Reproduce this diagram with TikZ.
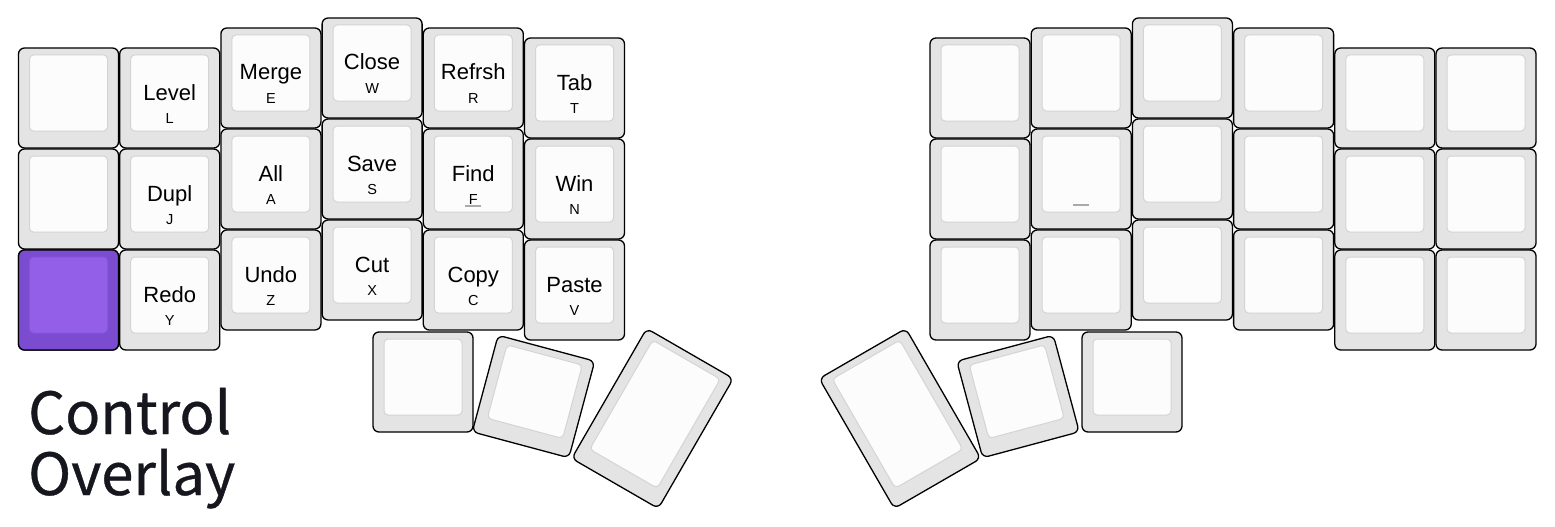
\documentclass[tikz,border=0pt]{standalone}
\usepackage{fontspec}
\setmainfont{Liberation Sans}
\newfontfamily\titlefont[FakeBold=0.6]{Noto Sans CJK JP}
\definecolor{keygray}{HTML}{E4E4E4}
\definecolor{keyface}{HTML}{FCFCFC}
\definecolor{keyedge}{HTML}{D4D4D4}
\definecolor{purpout}{HTML}{7B4BD0}
\definecolor{purpin}{HTML}{935FE9}
\definecolor{purpedge}{HTML}{8755DD}
\definecolor{titlecol}{HTML}{16161E}
\definecolor{barcol}{HTML}{AAAAAA}
\tikzset{
  keyout/.style={draw=black, line width=1.3pt, fill=keygray, rounded corners=6pt},
  keyin/.style={draw=keyedge, line width=1pt, fill=keyface, rounded corners=4pt},
  keyoutp/.style={keyout, fill=purpout},
  keyinp/.style={keyin, draw=purpedge, fill=purpin},
  lab/.style={font=\fontsize{22}{22}\selectfont, anchor=base, inner sep=0pt},
  sublab/.style={font=\fontsize{14.5}{14.5}\selectfont, anchor=base, inner sep=0pt},
  homebar/.style={draw=barcol, line width=2pt},
  titletext/.style={font=\titlefont\fontsize{58}{58}\selectfont, text=titlecol, anchor=base west, inner sep=0pt},
}
\newcommand\keycap[7]{%
  \begin{scope}[shift={(#1,#2)}, rotate=#5]
    \path[#6] (-#3/2,-#4/2) rectangle (#3/2,#4/2);
    \path[#7] (-#3/2+11,-#4/2+7) rectangle (#3/2-11,#4/2-17);
  \end{scope}}
\begin{document}
\begin{tikzpicture}[x=1pt,y=-1pt]
\useasboundingbox[fill=white] (0,0) rectangle (1555,527);
% left half
\foreach \c/\t in {0/48,1/48,2/28,3/18,4/28,5/38} {
  \foreach \r in {0,1,2} {
    \pgfmathsetmacro\cx{18.5+101.2*\c+50}
    \pgfmathsetmacro\cy{\t+101*\r+50}
    \keycap{\cx}{\cy}{100}{100}{0}{keyout}{keyin}
  }
}
\keycap{68.5}{300}{100}{100}{0}{keyoutp}{keyinp}
% right half
\foreach \c/\t in {0/38,1/28,2/18,3/28,4/48,5/48} {
  \foreach \r in {0,1,2} {
    \pgfmathsetmacro\cx{930+101.2*\c+50}
    \pgfmathsetmacro\cy{\t+101*\r+50}
    \keycap{\cx}{\cy}{100}{100}{0}{keyout}{keyin}
  }
}
% thumbs
\keycap{423}{382}{100}{100}{0}{keyout}{keyin}
\keycap{533.5}{396.5}{100}{100}{-15}{keyout}{keyin}
\keycap{652.5}{418.5}{100}{150}{-30}{keyout}{keyin}
\keycap{1132}{382}{100}{100}{0}{keyout}{keyin}
\keycap{1018}{396.5}{100}{100}{15}{keyout}{keyin}
\keycap{900}{418.5}{100}{150}{30}{keyout}{keyin}
% labels
\foreach \c/\t/\m/\s [count=\i] in {
  1/48/Level/L, 2/28/Merge/E, 3/18/Close/W, 4/28/Refrsh/R, 5/38/Tab/T,
  1/149/Dupl/J, 2/129/All/A, 3/119/Save/S, 4/129/Find/F, 5/139/Win/N,
  1/250/Redo/Y, 2/230/Undo/Z, 3/220/Cut/X, 4/230/Copy/C, 5/240/Paste/V} {
  \pgfmathsetmacro\cx{18.5+101.2*\c+50}
  \node[lab] (m\i) at (\cx,\t+52) {\m};
  \node[sublab] (s\i) at (\cx,\t+75.5) {\s};
}
% homing bars
\draw[homebar] (465.3,205.5) -- (481.3,205.5);
\draw[homebar] (1073,204.5) -- (1089,204.5);
% title
\node[titletext] (title1) at (28,434) {Control};
\node[titletext] (title2) at (28,495) {Overlay};
\end{tikzpicture}
\end{document}
